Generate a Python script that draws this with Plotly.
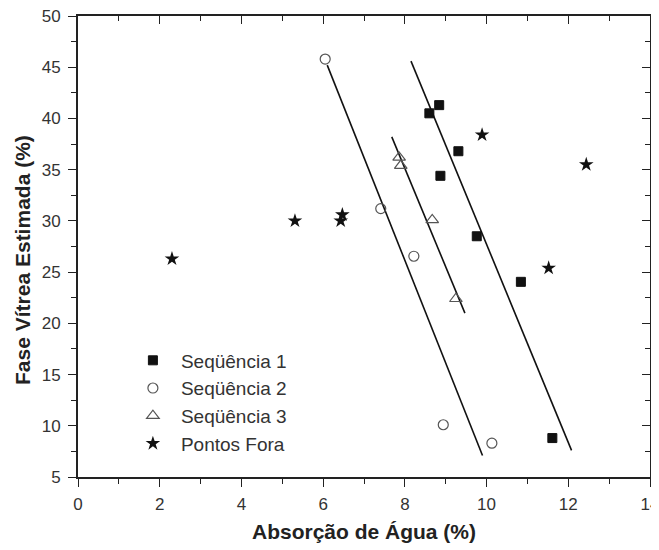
import plotly.graph_objects as go

# Sequence 1 (filled squares)
seq1_x = [8.60, 8.84, 9.31, 8.87, 9.76, 10.84, 11.61]
seq1_y = [40.5, 41.3, 36.8, 34.4, 28.5, 24.05, 8.8]
# Sequence 2 (open circles)
seq2_x = [6.05, 7.41, 8.22, 8.94, 10.13]
seq2_y = [45.8, 31.2, 26.55, 10.1, 8.3]
# Sequence 3 (open triangles)
seq3_x = [7.86, 7.90, 8.67, 9.25]
seq3_y = [36.2, 35.4, 30.1, 22.4]
# Outliers (stars)
out_x = [2.30, 5.31, 6.47, 6.43, 9.89, 12.44, 11.52]
out_y = [26.3, 30.0, 30.6, 30.0, 38.4, 35.5, 25.4]
# Fitted lines (endpoints)
fit1_x = [8.15, 12.08]
fit1_y = [45.6, 7.6]
fit2_x = [6.10, 9.90]
fit2_y = [45.2, 7.1]
fit3_x = [7.68, 9.47]
fit3_y = [38.2, 21.0]

x_range = [0, 14]
y_range = [5, 50]

font_fam = "Liberation Sans, Arial, sans-serif"
fig = go.Figure()

for fx, fy in [(fit1_x, fit1_y), (fit2_x, fit2_y), (fit3_x, fit3_y)]:
    fig.add_trace(go.Scatter(x=fx, y=fy, mode="lines", showlegend=False,
                             line=dict(color="#111", width=1.6)))

fig.add_trace(go.Scatter(x=seq1_x, y=seq1_y, mode="markers", name="Seqüência 1",
                         marker=dict(symbol="square", size=9, color="#111",
                                     line=dict(color="#111", width=1))))
fig.add_trace(go.Scatter(x=seq2_x, y=seq2_y, mode="markers", name="Seqüência 2",
                         marker=dict(symbol="circle-open", size=10, color="#555",
                                     line=dict(width=1.2))))
fig.add_trace(go.Scatter(x=seq3_x, y=seq3_y, mode="markers", name="Seqüência 3",
                         marker=dict(symbol="triangle-up-open", size=11, color="#555",
                                     line=dict(width=1.2))))
fig.add_trace(go.Scatter(x=out_x, y=out_y, mode="markers", name="Pontos Fora",
                         marker=dict(symbol="star", size=11, color="#111",
                                     line=dict(width=0))))
# helper trace so the mirrored (top/right) tick axes are drawn
fig.add_trace(go.Scatter(x=[], y=[], xaxis="x2", yaxis="y2", showlegend=False,
                         hoverinfo="skip"))

tickfont = dict(family=font_fam, size=17, color="#333")
common = dict(showgrid=False, zeroline=False, automargin=False,
              tickwidth=1.4, tickcolor="#222")

fig.update_layout(
    xaxis=dict(range=x_range, dtick=2, tick0=0, showline=True, linecolor="#222",
               linewidth=1.8, mirror=True, ticks="outside", ticklen=8,
               minor=dict(dtick=1, ticks="outside", ticklen=5, tickcolor="#222"),
               tickfont=tickfont, ticklabelstandoff=3, ticklabeloverflow="allow",
               title=dict(text="<b>Absorção de Água (%)</b>",
                          font=dict(family=font_fam, size=21, color="#222"), standoff=11),
               **common),
    yaxis=dict(range=y_range, dtick=5, tick0=5, showline=True, linecolor="#222",
               linewidth=1.8, mirror=True, ticks="outside", ticklen=8,
               minor=dict(dtick=2.5, ticks="outside", ticklen=5, tickcolor="#222"),
               tickfont=tickfont, ticklabelstandoff=4, ticklabeloverflow="allow",
               **common),
    xaxis2=dict(range=x_range, dtick=2, tick0=0, overlaying="x", side="top",
                anchor="y", showline=False, ticks="inside", ticklen=8,
                showticklabels=False,
                minor=dict(dtick=1, ticks="inside", ticklen=5, tickcolor="#222"),
                **common),
    yaxis2=dict(range=y_range, dtick=5, tick0=5, overlaying="y", side="right",
                anchor="x", showline=False, ticks="inside", ticklen=8,
                showticklabels=False,
                minor=dict(dtick=2.5, ticks="inside", ticklen=5, tickcolor="#222"),
                **common),
    annotations=[dict(text="<b>Fase Vítrea Estimada (%)</b>", textangle=-90,
                      xref="paper", yref="paper", x=-0.096, y=0.471,
                      xanchor="center", yanchor="middle", showarrow=False,
                      font=dict(family=font_fam, size=21, color="#222"))],
    # page body adds an 8px offset: figure is reduced to compensate
    width=651, height=542,
    margin=dict(l=70, r=9, t=8, b=73),
    plot_bgcolor="white", paper_bgcolor="white",
    legend=dict(x=0.082, y=0.294, xanchor="left", yanchor="top",
                bgcolor="rgba(0,0,0,0)", itemwidth=46, tracegroupgap=0,
                font=dict(family=font_fam, size=19, color="#333")),
)
for i, tr in enumerate(fig.data):
    tr.legendgroup = f"g{i}"

fig.write_html("out.html")
